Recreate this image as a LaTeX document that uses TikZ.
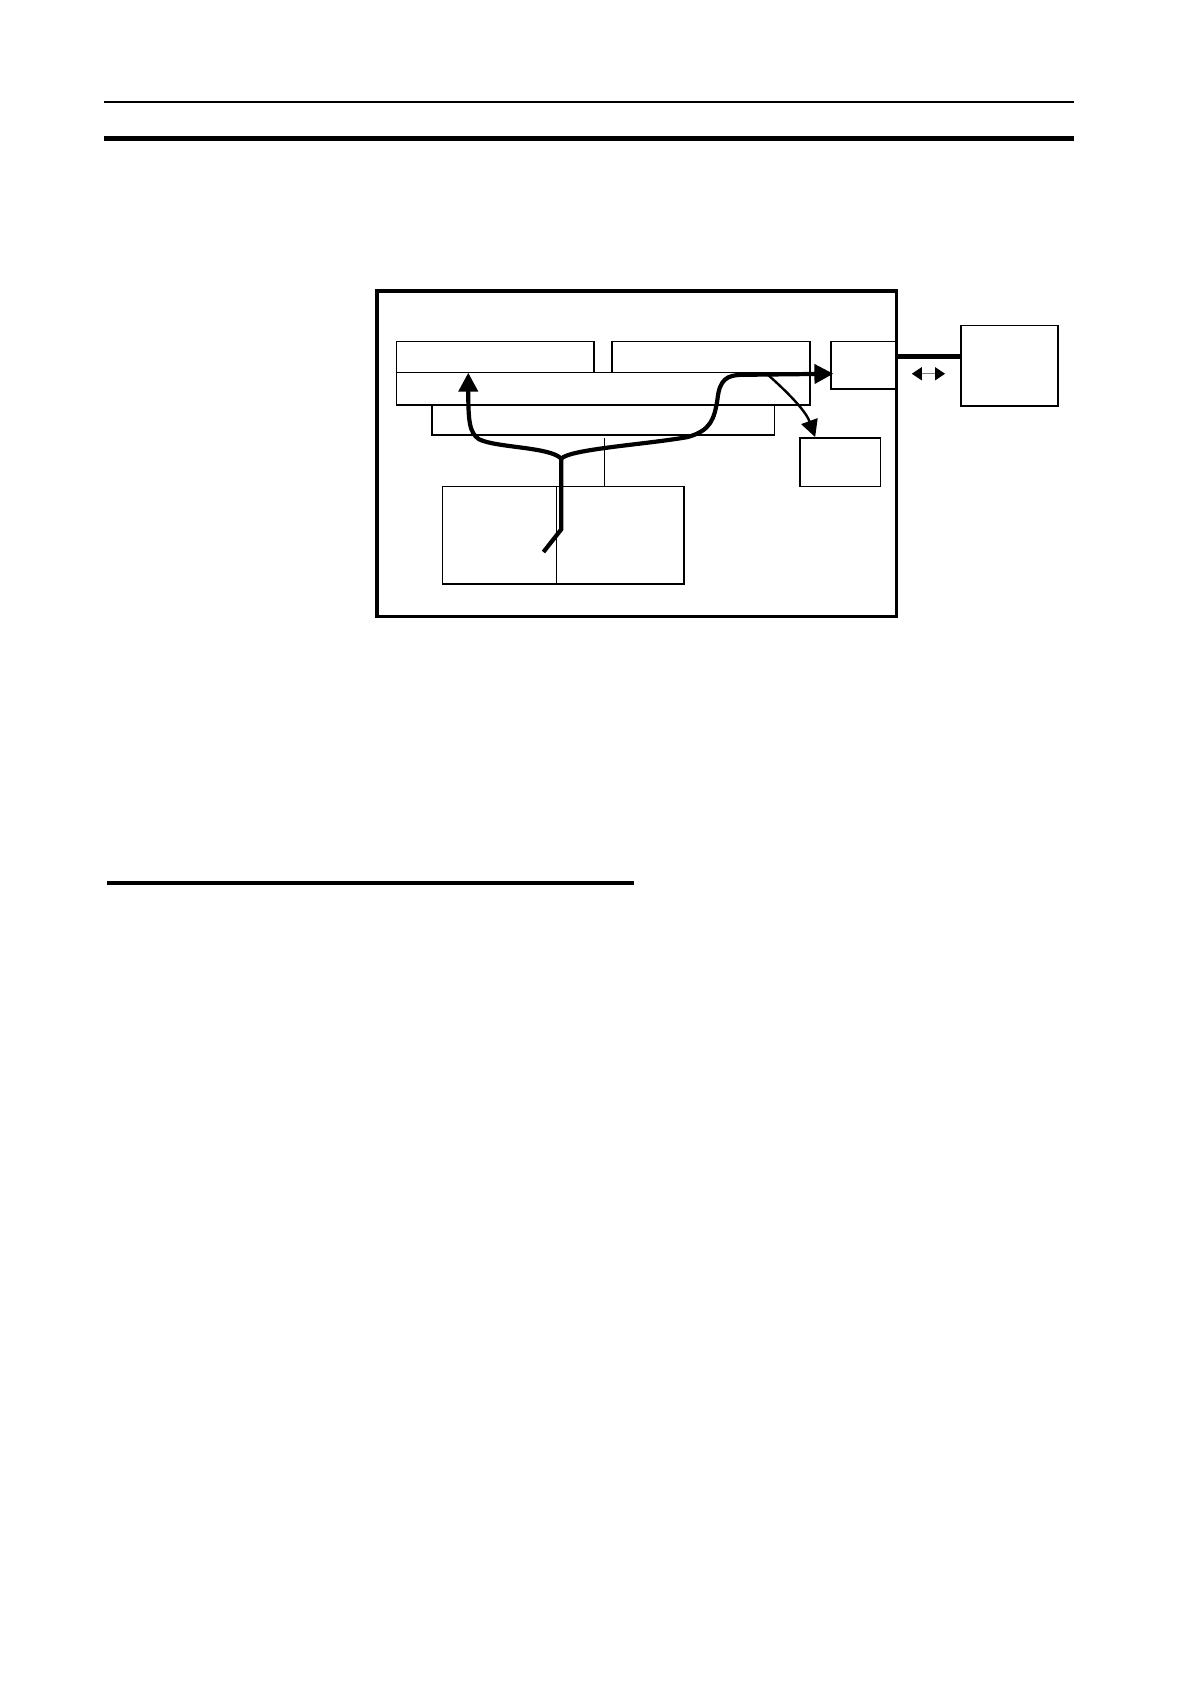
\documentclass[tikz,border=0pt]{standalone}
\usetikzlibrary{arrows.meta,fit}
\begin{document}
\begin{tikzpicture}[
  x=0.537pt, y=-0.537pt,
  frame/.style={draw, line width=1.6pt, inner sep=0pt},
  box/.style={draw, line width=0.8pt, inner sep=0pt},
  flow/.style={line width=2.1pt, -{Triangle[length=9.5pt,width=9.5pt]}},
  subflow/.style={line width=1.2pt, -{Triangle[length=8.5pt,width=8.5pt]}},
  link/.style={line width=2.2pt},
  rule/.style={line cap=butt}
]
\useasboundingbox (0,0) rectangle (1108,1568);

% page rules
\coordinate (hdrL) at (97,95);
\coordinate (hdrR) at (1000,95);
\coordinate (secL) at (97,129);
\coordinate (secR) at (1000,129);
\coordinate (subL) at (100,822);
\coordinate (subR) at (590,822);
\draw[rule, line width=0.7pt] (hdrL) -- (hdrR);
\draw[rule, line width=2.1pt] (secL) -- (secR);
\draw[rule, line width=1.9pt] (subL) -- (subR);

% controller frame
\node[frame, fit={(351,271) (835,574)}] (frame) {};

% upper units and bus
\node[box, fit={(369,318) (553,347)}] (unitL) {};
\node[box, fit={(570,318) (754,347)}] (unitR) {};
\node[box, fit={(369,347) (754,377)}] (bus) {};
\node[box, fit={(402,377) (721,405)}] (core) {};

% side blocks
\node[box, fit={(774,318) (835,362)}] (port) {};
\node[box, fit={(745,408) (820,453)}] (aux) {};
\node[box, fit={(895,303) (985,378)}] (ext) {};

% lower block
\node[box, fit={(412,453) (637,544)}] (mem) {};
\coordinate (split) at (518,453);
\draw[line width=0.6pt] (split) -- (split |- mem.south);
\coordinate (tap) at (563,408);
\draw[line width=0.8pt] (tap) -- (tap |- mem.north);

% external link
\coordinate (linkL) at (835,332);
\draw[link] (linkL) -- (linkL -| ext.west);
\coordinate (dirL) at (849,348);
\coordinate (dirR) at (880,348);
\draw[gray, line width=0.6pt, {Triangle[length=5pt,width=6.5pt,fill=black,color=black]}-{Triangle[length=5pt,width=6.5pt,fill=black,color=black]}] (dirL) -- (dirR);

% data flow
\coordinate (src) at (506,514);
\coordinate (bend) at (522.5,493);
\coordinate (fork) at (522.5,427);
\coordinate (tipL) at (436,347);
\coordinate (tipR) at (776,348);
\coordinate (tap2) at (715,349);
\coordinate (tipA) at (759,407);
\draw[line width=2.1pt, line join=miter] (src) -- (bend) -- (fork);
\draw[flow] (fork) .. controls (512,416) and (462,417) .. (446,409)
  .. controls (437,403) and (436,392) .. (tipL);
\draw[flow] (fork) .. controls (532,418) and (600,414) .. (640,407)
  .. controls (662,401) and (665,390) .. (668,372)
  .. controls (670,353) and (677,349) .. (692,349) -- (tipR);
\draw[subflow] (tap2) .. controls (732,364) and (750,382) .. (tipA);
\end{tikzpicture}
\end{document}
